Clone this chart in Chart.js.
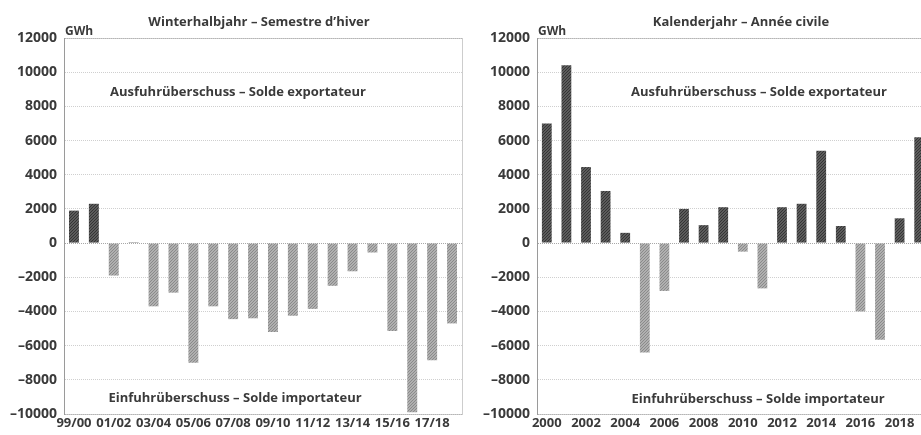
<!DOCTYPE html>
<html>
<head>
<meta charset="utf-8">
<script src="https://cdn.jsdelivr.net/npm/chart.js@4/dist/chart.umd.min.js"></script>
<style>
    body {
        margin: 0;
        width: 921px;
        height: 435px;
        overflow: hidden;
        position: relative;
        background: #fff;
        font-family: 'Open Sans', 'Noto Sans', sans-serif;
        color: #3a3a3a;
    }
    .box { position: absolute; top: 0; height: 435px; }
    #leftBox { left: 0; width: 472px; }
    #rightBox { left: 462px; width: 480px; }
    .lbl {
        position: absolute;
        white-space: nowrap;
        font-weight: 700;
        transform: translate(-50%, -50%);
        line-height: 1;
    }
    .unit {
        position: absolute;
        white-space: nowrap;
        font-weight: 700;
        font-size: 12px;
        line-height: 1;
        transform: translateY(-50%);
    }
</style>
</head>
<body>
<div class="box" id="leftBox"><canvas id="winterChart" width="472" height="435"></canvas></div>
<div class="box" id="rightBox"><canvas id="yearChart" width="480" height="435"></canvas></div>

<div class="lbl" style="left:259px;top:21px;font-size:13px;">Winterhalbjahr – Semestre d’hiver</div>
<div class="lbl" style="left:741px;top:21px;font-size:13px;">Kalenderjahr – Année civile</div>
<div class="unit" style="left:65px;top:31px;">GWh</div>
<div class="unit" style="left:538px;top:31px;">GWh</div>
<div class="lbl" style="left:238px;top:91px;font-size:13px;">Ausfuhrüberschuss – Solde exportateur</div>
<div class="lbl" style="left:759px;top:91px;font-size:13px;">Ausfuhrüberschuss – Solde exportateur</div>
<div class="lbl" style="left:235px;top:397px;font-size:13px;">Einfuhrüberschuss – Solde importateur</div>
<div class="lbl" style="left:758px;top:398px;font-size:13px;">Einfuhrüberschuss – Solde importateur</div>

<script>
// ==================== Daten ====================

const winterLabels = ['99/00', '00/01', '01/02', '02/03', '03/04', '04/05', '05/06', '06/07', '07/08', '08/09',
    '09/10', '10/11', '11/12', '12/13', '13/14', '14/15', '15/16', '16/17', '17/18', '18/19'];
const winterValues = [1900, 2300, -1900, 50, -3700, -2900, -7000, -3700, -4450, -4400,
    -5200, -4250, -3850, -2500, -1650, -550, -5150, -9900, -6850, -4700];

const yearLabels = ['2000', '2001', '2002', '2003', '2004', '2005', '2006', '2007', '2008', '2009',
    '2010', '2011', '2012', '2013', '2014', '2015', '2016', '2017', '2018', '2019'];
const yearValues = [7000, 10400, 4450, 3050, 600, -6400, -2800, 2000, 1050, 2100,
    -500, -2650, 2100, 2300, 5400, 1000, -4000, -5650, 1450, 6200];

const yMin = -10000;
const yMax = 12000;
const yStep = 2000;

const TEXT = '#3a3a3a';

// schraffierte Balken (Raster wie im Original)
function hatch(bg, fg) {
    const c = document.createElement('canvas');
    c.width = 3;
    c.height = 3;
    const g = c.getContext('2d');
    g.fillStyle = bg;
    g.fillRect(0, 0, 3, 3);
    g.fillStyle = fg;
    for (let i = 0; i < 3; i++) g.fillRect(i, 2 - i, 1, 1);
    return g.createPattern(c, 'repeat');
}
const exportFill = hatch('#5c5c5c', '#343434');
const importFill = hatch('#b0b0b0', '#8a8a8a');

// gepunkteter Rahmen um die Zeichenfläche
const frameBorder = {
    id: 'frameBorder',
    afterDatasetsDraw(chart) {
        const { ctx, chartArea: a } = chart;
        ctx.save();
        ctx.strokeStyle = '#9a9a9a';
        ctx.lineWidth = 1;
        ctx.setLineDash([1, 1]);
        ctx.strokeRect(Math.round(a.left) + 0.5, Math.round(a.top) + 0.5,
            Math.round(a.right - a.left), Math.round(a.bottom - a.top));
        ctx.restore();
    }
};

function fmtTick(v) {
    if (v < 0) return '–' + Math.abs(v);
    return String(v);
}

function makeChart(id, labels, values, yWidth, padRight) {
    return new Chart(document.getElementById(id), {
        type: 'bar',
        data: {
            labels: labels,
            datasets: [{
                data: values,
                backgroundColor: c => (c.raw >= 0 ? exportFill : importFill),
                borderWidth: 0,
                barPercentage: 0.5,
                categoryPercentage: 1
            }]
        },
        options: {
            responsive: false,
            animation: false,
            layout: { padding: { top: 38, right: padRight, left: 0, bottom: 0 } },
            plugins: {
                legend: { display: false },
                tooltip: { enabled: false }
            },
            scales: {
                x: {
                    offset: true,
                    grid: { display: false, drawTicks: false },
                    border: { display: false },
                    afterFit: s => { s.height = 21; },
                    ticks: {
                        autoSkip: false,
                        maxRotation: 0,
                        padding: 1,
                        color: TEXT,
                        font: { family: "'Open Sans', sans-serif", size: 13, weight: '700' },
                        callback: function (val, i) {
                            return i % 2 === 0 ? this.getLabelForValue(val) : '';
                        }
                    }
                },
                y: {
                    min: yMin,
                    max: yMax,
                    afterFit: s => { s.width = yWidth; },
                    border: { display: true, color: '#9a9a9a', dash: [1, 1] },
                    grid: {
                        drawTicks: false,
                        color: c => (c.tick && c.tick.value === 0 ? '#a8a8a8' : '#cfcfcf'),
                        borderDash: c => (c.tick && c.tick.value === 0 ? [] : [1, 2])
                    },
                    ticks: {
                        stepSize: yStep,
                        padding: 7,
                        color: TEXT,
                        font: { family: "'Open Sans', sans-serif", size: 14, weight: '700' },
                        callback: v => fmtTick(v)
                    }
                }
            }
        },
        plugins: [frameBorder]
    });
}

makeChart('winterChart', winterLabels, winterValues, 64, 10);
makeChart('yearChart', yearLabels, yearValues, 75, 13);
</script>
</body>
</html>
